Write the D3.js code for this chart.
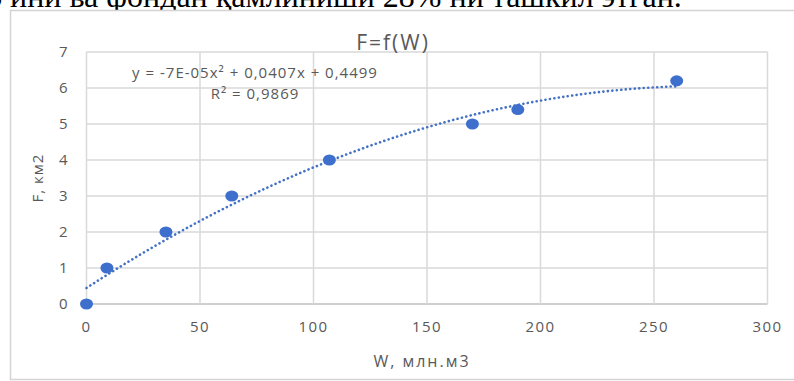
<!DOCTYPE html>
<html>
  <head>
    <meta charset="UTF-8">
    <style>
      body { margin: 0; background: #fff; overflow: hidden; }
      text { font-family: 'Open Sans', 'DejaVu Sans', sans-serif; fill: #595959; }
      .serif { font-family: 'Liberation Serif', 'DejaVu Serif', serif; fill: #000; }
    </style>
  </head>
  <body>
    <script src="https://d3js.org/d3.v7.min.js"></script>
    <svg id="chart" width="794" height="381"></svg>
    <script>
      // data
      var wValues = [0, 9, 35, 64, 107, 170, 190, 260];
      var fValues = [0, 1, 2, 3, 4, 5, 5.4, 6.2];
      var xTicks = [0, 50, 100, 150, 200, 250, 300];
      var yTicks = [0, 1, 2, 3, 4, 5, 6, 7];
      var titleText = "F=f(W)";
      var eqText = "y = -7E-05x\u00b2 + 0,0407x + 0,4499";
      var r2Text = "R\u00b2 = 0,9869";
      var xLabel = "W, млн.м3";
      var yLabel = "F, км2";
      var topText = "6 ини ва фондан қамлиниши 28% ни ташкил этган.";

      var svg = d3.select("#chart"),
          margin = {top: 52, right: 26.5, bottom: 77, left: 86.5},
          width = 794 - margin.left - margin.right,
          height = 381 - margin.top - margin.bottom;

      var x = d3.scaleLinear().domain([0, 300]).range([0, width]),
          y = d3.scaleLinear().domain([0, 7]).range([height, 0]);

      /* cropped line of text above the chart */
      svg.append("text").attr("class", "serif")
        .attr("x", -14).attr("y", 7)
        .style("font-size", "32px")
        .text(topText);

      /* chart frame */
      svg.append("rect")
        .attr("x", 10.5).attr("y", 10.5)
        .attr("width", 800).attr("height", 369)
        .attr("fill", "#fff")
        .attr("stroke", "#d4d4d4")
        .attr("stroke-width", 1.5);

      var g = svg.append("g").attr("transform", "translate(" + margin.left + "," + margin.top + ")");

      /* gridlines */
      g.selectAll(".hgrid").data(yTicks).enter().append("line")
        .attr("x1", 0).attr("x2", width)
        .attr("y1", function(d) { return y(d); })
        .attr("y2", function(d) { return y(d); })
        .attr("stroke", function(d) { return d === 0 ? "#bfbfbf" : "#d9d9d9"; })
        .attr("stroke-width", 1.5);
      g.selectAll(".vgrid").data(xTicks).enter().append("line")
        .attr("y1", 0).attr("y2", height)
        .attr("x1", function(d) { return x(d); })
        .attr("x2", function(d) { return x(d); })
        .attr("stroke", "#d9d9d9")
        .attr("stroke-width", 1.5);

      /* tick labels */
      g.selectAll(".ylab").data(yTicks).enter().append("text")
        .attr("x", -19).attr("y", function(d) { return y(d); })
        .attr("dy", "0.35em")
        .attr("text-anchor", "end")
        .style("font-size", "15px")
        .text(function(d) { return d; });
      g.selectAll(".xlab").data(xTicks).enter().append("text")
        .attr("x", function(d) { return x(d); })
        .attr("y", height + 23)
        .attr("dy", "0.35em")
        .attr("text-anchor", "middle")
        .style("font-size", "15px")
        .style("letter-spacing", "1.5px")
        .text(function(d) { return d; });

      /* titles */
      svg.append("text")
        .attr("x", 393).attr("y", 43).attr("dy", "0.35em")
        .attr("text-anchor", "middle")
        .style("font-size", "21px")
        .style("letter-spacing", "2px")
        .text(titleText);
      svg.append("text")
        .attr("x", 422).attr("y", 361).attr("dy", "0.35em")
        .attr("text-anchor", "middle")
        .style("font-size", "16px")
        .style("letter-spacing", "2px")
        .text(xLabel);
      svg.append("text")
        .attr("transform", "translate(38,178) rotate(-90)")
        .attr("dy", "0.35em")
        .attr("text-anchor", "middle")
        .style("font-size", "15px")
        .style("letter-spacing", "1px")
        .text(yLabel);

      /* trendline: quadratic least squares fit of the points */
      var pts = wValues.map(function(w, i) { return [w, fValues[i]]; });
      function fitQuad(p) {
        var s = [0, 0, 0, 0, 0], t = [0, 0, 0];
        p.forEach(function(d) {
          for (var k = 0; k < 5; k++) s[k] += Math.pow(d[0], k);
          for (var k = 0; k < 3; k++) t[k] += d[1] * Math.pow(d[0], k);
        });
        var A = [[s[0], s[1], s[2], t[0]], [s[1], s[2], s[3], t[1]], [s[2], s[3], s[4], t[2]]];
        for (var i = 0; i < 3; i++) {
          for (var j = i + 1; j < 3; j++) {
            var f = A[j][i] / A[i][i];
            for (var k = i; k < 4; k++) A[j][k] -= f * A[i][k];
          }
        }
        var c = [0, 0, 0];
        for (var i = 2; i >= 0; i--) {
          var v = A[i][3];
          for (var k = i + 1; k < 3; k++) v -= A[i][k] * c[k];
          c[i] = v / A[i][i];
        }
        return c;
      }
      var coef = fitQuad(pts);
      var trend = d3.range(0, d3.max(wValues) + 0.5, 2).map(function(w) {
        return [w, coef[0] + coef[1] * w + coef[2] * w * w];
      });
      g.append("path")
        .datum(trend)
        .attr("fill", "none")
        .attr("stroke", "#4472c4")
        .attr("stroke-width", 2.6)
        .attr("stroke-linecap", "round")
        .attr("stroke-dasharray", "0.1,4.4")
        .attr("d", d3.line().x(function(d) { return x(d[0]); }).y(function(d) { return y(d[1]); }));

      /* points */
      g.selectAll(".pt").data(pts).enter().append("ellipse")
        .attr("cx", function(d) { return x(d[0]); })
        .attr("cy", function(d) { return y(d[1]); })
        .attr("rx", 6.5).attr("ry", 5.5)
        .attr("fill", "#3f6fcc");

      /* equation and R² */
      svg.append("text")
        .attr("x", 255).attr("y", 73).attr("dy", "0.35em")
        .attr("text-anchor", "middle")
        .style("font-size", "15px")
        .style("letter-spacing", "1px")
        .text(eqText);
      svg.append("text")
        .attr("x", 255).attr("y", 94).attr("dy", "0.35em")
        .attr("text-anchor", "middle")
        .style("font-size", "15px")
        .style("letter-spacing", "1px")
        .text(r2Text);
    </script>
  </body>
</html>
